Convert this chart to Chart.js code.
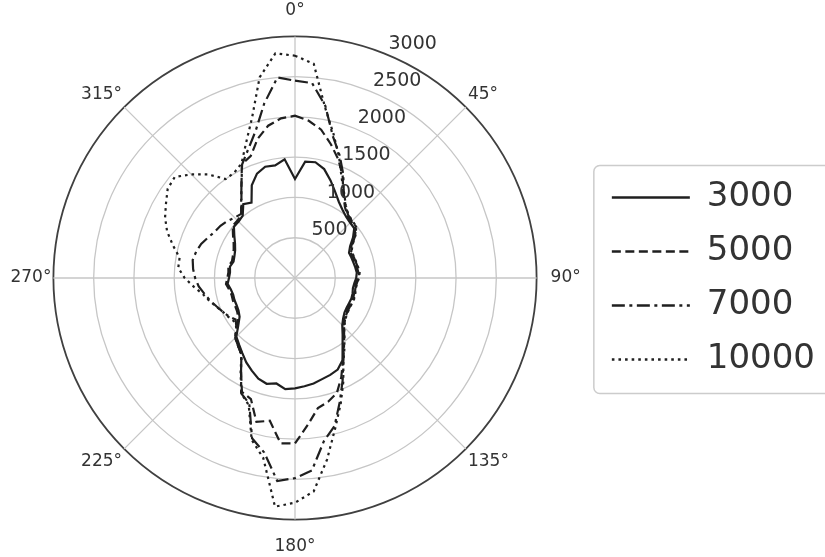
<!DOCTYPE html>
<html>
<head>
<meta charset="utf-8">
<script src="https://cdn.jsdelivr.net/npm/chart.js@4.4.1/dist/chart.umd.min.js"></script>
<style>
  html, body { margin: 0; padding: 0; background: #ffffff; }
  #wrap { width: 825px; height: 557px; }
</style>
</head>
<body>
<div id="wrap"><canvas id="c" width="825" height="557"></canvas></div>
<script>
// Angles (degrees, clockwise from top) at which the series are sampled
const angles = [];
for (let a = 0; a < 360; a += 5) angles.push(a);

// Angular tick labels (every 45 degrees)
const angleTickLabels = ['0°', '45°', '90°', '135°', '180°', '225°', '270°', '315°'];

// Radial tick values
const radialTicks = [500, 1000, 1500, 2000, 2500, 3000];

// Series names
const seriesNames = ['3000', '5000', '7000', '10000'];

// Series values, one per angle (0,5,...,355 deg)
const s3000 = [
  1230, 1450, 1460, 1400, 1290, 1180, 1090, 1030, 990, 970, 960, 880,
  790, 740, 745, 750, 760, 770, 760, 740, 730, 740, 745, 740,
  740, 750, 780, 830, 920, 1030, 1180, 1255, 1280, 1300, 1330, 1350,
  1370, 1385, 1330, 1360, 1330, 1270, 1210, 1140, 1080, 1030, 920, 840,
  810, 800, 800, 795, 810, 840, 820, 810, 820, 790, 800, 820,
  860, 920, 990, 990, 1010, 1120, 1080, 1270, 1380, 1430, 1420, 1480
];
const s5000 = [
  2015, 1960, 1870, 1720, 1570, 1400, 1200, 1080, 1010, 990, 980, 900,
  810, 760, 765, 770, 780, 790, 780, 760, 750, 760, 765, 760,
  760, 770, 800, 850, 940, 1050, 1190, 1360, 1520, 1590, 1640, 1830,
  2055, 2060, 1800, 1850, 1600, 1560, 1340, 1160, 1100, 1050, 940, 860,
  830, 820, 820, 815, 830, 860, 840, 830, 840, 810, 820, 840,
  880, 940, 1010, 1010, 1030, 1160, 1330, 1560, 1610, 1790, 1920, 1990
];
const s7000 = [
  2450, 2430, 2170, 1820, 1620, 1420, 1210, 1095, 1025, 1000, 990, 910,
  820, 770, 775, 780, 790, 800, 790, 770, 760, 770, 775, 770,
  770, 780, 810, 860, 950, 1060, 1200, 1400, 1630, 1900, 2060, 2400,
  2485, 2530, 2200, 2060, 1660, 1580, 1340, 1160, 1100, 1050, 950, 900,
  950, 990, 1035, 1090, 1140, 1200, 1240, 1270, 1290, 1270, 1240, 1190,
  1150, 1130, 1100, 1060, 1040, 1165, 1330, 1555, 1700, 1890, 2200, 2500
];
const s10000 = [
  2760, 2670, 2150, 1850, 1600, 1370, 1220, 1100, 1030, 1005, 995, 915,
  825, 775, 780, 785, 795, 805, 795, 775, 765, 775, 780, 775,
  775, 785, 815, 865, 955, 1070, 1200, 1420, 1660, 1930, 2290, 2660,
  2790, 2850, 2270, 2080, 1680, 1580, 1350, 1160, 1100, 1050, 950, 930,
  960, 990, 1040, 1100, 1160, 1260, 1370, 1455, 1455, 1570, 1690, 1780,
  1850, 1930, 1950, 1820, 1680, 1500, 1510, 1570, 1780, 2060, 2530, 2800
];

const lineColor = '#1f1f1f';
const dashes = [[], [9, 4.5], [13, 4.5, 3, 4.5], [2.6, 4]];
const seriesData = [s3000, s5000, s7000, s10000];

Chart.defaults.font.family = 'DejaVu Sans';
Chart.defaults.color = '#333333';

const rLabelPlugin = {
  id: 'rLabels',
  afterDraw(chart) {
    const sc = chart.scales.r;
    const ctx = chart.ctx;
    const ang = 22.5 * Math.PI / 180;
    ctx.save();
    ctx.font = '19px "DejaVu Sans"';
    ctx.fillStyle = '#333333';
    ctx.textAlign = 'left';
    ctx.textBaseline = 'middle';
    radialTicks.forEach(v => {
      const d = sc.getDistanceFromCenterForValue(v);
      const x = sc.xCenter + d * Math.sin(ang);
      const y = sc.yCenter - d * Math.cos(ang);
      ctx.fillText(String(v), x + 1, y - 11);
    });
    // legend frame
    const lg = chart.legend;
    if (lg && lg.legendHitBoxes && lg.legendHitBoxes.length) {
      const hb = lg.legendHitBoxes;
      const x = hb[0].left - 18;
      const y = hb[0].top - 15;
      const w = chart.width - x + 20;
      const h = hb[hb.length - 1].top + hb[hb.length - 1].height - y + 17;
      const r = 6;
      ctx.beginPath();
      ctx.moveTo(x + r, y);
      ctx.lineTo(x + w - r, y);
      ctx.arcTo(x + w, y, x + w, y + r, r);
      ctx.lineTo(x + w, y + h - r);
      ctx.arcTo(x + w, y + h, x + w - r, y + h, r);
      ctx.lineTo(x + r, y + h);
      ctx.arcTo(x, y + h, x, y + h - r, r);
      ctx.lineTo(x, y + r);
      ctx.arcTo(x, y, x + r, y, r);
      ctx.closePath();
      ctx.strokeStyle = '#cccccc';
      ctx.lineWidth = 1.5;
      ctx.stroke();
    }
    ctx.restore();
  }
};

new Chart(document.getElementById('c'), {
  type: 'radar',
  data: {
    labels: angles,
    datasets: seriesNames.map((name, k) => ({
      label: name,
      data: seriesData[k],
      borderColor: lineColor,
      backgroundColor: 'rgba(0,0,0,0)',
      borderWidth: 2.2,
      borderDash: dashes[k],
      borderCapStyle: 'butt',
      borderJoinStyle: 'miter',
      pointRadius: 0,
      pointHoverRadius: 0,
      fill: false,
      tension: 0
    }))
  },
  options: {
    responsive: false,
    animation: false,
    layout: { padding: 0 },
    plugins: {
      legend: {
        position: 'right',
        labels: {
          usePointStyle: true,
          pointStyle: 'line',
          pointStyleWidth: 78,
          padding: 20,
          color: '#333333',
          font: { size: 34, family: 'DejaVu Sans' },
          generateLabels: chart => {
            const items = Chart.defaults.plugins.legend.labels.generateLabels(chart);
            items.forEach((it, i) => {
              it.lineDash = dashes[i];
              it.lineWidth = 2.6;
              it.strokeStyle = lineColor;
              it.lineCap = 'butt';
              it.pointStyle = 'line';
            });
            return items;
          }
        }
      },
      tooltip: { enabled: false }
    },
    scales: {
      r: {
        min: 0,
        max: 3000,
        startAngle: 0,
        ticks: { stepSize: 500, display: false },
        grid: {
          circular: true,
          color: c => (c.tick && c.tick.value === 3000) ? '#404040' : '#c6c6c6',
          lineWidth: c => (c.tick && c.tick.value === 3000) ? 1.8 : 1.3
        },
        angleLines: {
          color: c => (c.index % 9 === 0) ? '#c6c6c6' : 'rgba(0,0,0,0)',
          lineWidth: c => (c.index % 9 === 0) ? 1.3 : 0
        },
        pointLabels: {
          callback: (label, i) => (i % 9 === 0) ? angleTickLabels[i / 9] : '',
          color: '#333333',
          font: { size: 17, family: 'DejaVu Sans' },
          padding: c => {
            const i = c.index;
            if (i === 0) return 16;
            if (i === 18) return 14;
            if (i === 36) return 17;
            if (i === 54) return 2;
            if (i % 9 === 0) return 3;
            return 0;
          }
        }
      }
    }
  },
  plugins: [rLabelPlugin]
});
</script>
</body>
</html>
